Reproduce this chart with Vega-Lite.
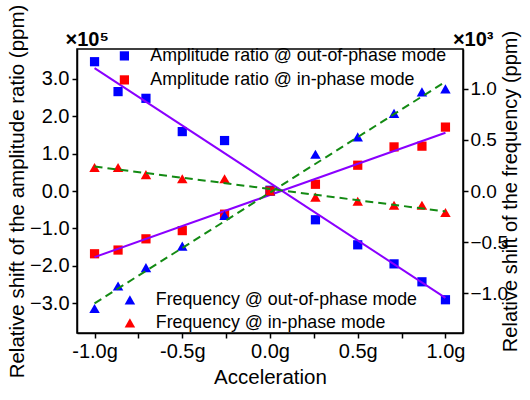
{
  "$schema": "https://vega.github.io/schema/vega-lite/v6.json",
  "width": 386,
  "height": 284,
  "autosize": {"type": "none"},
  "padding": {"left": 77, "top": 49, "right": 67, "bottom": 67},
  "background": "white",
  "config": {
    "font": "Liberation Sans",
    "view": {"stroke": "black", "strokeWidth": 1.5},
    "axis": {
      "grid": false,
      "domainColor": "black",
      "domainWidth": 1.5,
      "tickColor": "black",
      "tickWidth": 1.5,
      "tickSize": 5,
      "labelColor": "black",
      "titleColor": "black",
      "labelFontSize": 20,
      "titleFontSize": 20.5,
      "titleFontWeight": "normal",
      "labelFont": "Liberation Sans",
      "titleFont": "Liberation Sans"
    },
    "legend": {
      "labelFont": "Liberation Sans",
      "labelFontSize": 17.8,
      "labelColor": "black",
      "labelLimit": 500,
      "padding": 0,
      "labelOffset": 17
    }
  },
  "datasets": {
    "amp": [
      {"x": -1.0, "y": 3.46, "series": "Amplitude ratio @ out-of-phase mode"},
      {"x": -0.866, "y": 2.66, "series": "Amplitude ratio @ out-of-phase mode"},
      {"x": -0.707, "y": 2.48, "series": "Amplitude ratio @ out-of-phase mode"},
      {"x": -0.5, "y": 1.59, "series": "Amplitude ratio @ out-of-phase mode"},
      {"x": -0.259, "y": 1.35, "series": "Amplitude ratio @ out-of-phase mode"},
      {"x": 0.0, "y": 0.02, "series": "Amplitude ratio @ out-of-phase mode"},
      {"x": 0.259, "y": -0.77, "series": "Amplitude ratio @ out-of-phase mode"},
      {"x": 0.5, "y": -1.44, "series": "Amplitude ratio @ out-of-phase mode"},
      {"x": 0.707, "y": -1.95, "series": "Amplitude ratio @ out-of-phase mode"},
      {"x": 0.866, "y": -2.43, "series": "Amplitude ratio @ out-of-phase mode"},
      {"x": 1.0, "y": -2.91, "series": "Amplitude ratio @ out-of-phase mode"},
      {"x": -1.0, "y": -1.68, "series": "Amplitude ratio @ in-phase mode"},
      {"x": -0.866, "y": -1.58, "series": "Amplitude ratio @ in-phase mode"},
      {"x": -0.707, "y": -1.28, "series": "Amplitude ratio @ in-phase mode"},
      {"x": -0.5, "y": -1.06, "series": "Amplitude ratio @ in-phase mode"},
      {"x": -0.259, "y": -0.62, "series": "Amplitude ratio @ in-phase mode"},
      {"x": 0.0, "y": 0.0, "series": "Amplitude ratio @ in-phase mode"},
      {"x": 0.259, "y": 0.18, "series": "Amplitude ratio @ in-phase mode"},
      {"x": 0.5, "y": 0.69, "series": "Amplitude ratio @ in-phase mode"},
      {"x": 0.707, "y": 1.18, "series": "Amplitude ratio @ in-phase mode"},
      {"x": 0.866, "y": 1.2, "series": "Amplitude ratio @ in-phase mode"},
      {"x": 1.0, "y": 1.71, "series": "Amplitude ratio @ in-phase mode"}
    ],
    "ampFit": [
      {"x": -1.0, "y": 3.29, "series": "out"},
      {"x": 1.0, "y": -2.86, "series": "out"},
      {"x": -1.0, "y": -1.77, "series": "in"},
      {"x": 1.0, "y": 1.56, "series": "in"}
    ],
    "freq": [
      {"x": -1.0, "y": -1.15, "series": "Frequency @ out-of-phase mode"},
      {"x": -0.866, "y": -0.93, "series": "Frequency @ out-of-phase mode"},
      {"x": -0.707, "y": -0.75, "series": "Frequency @ out-of-phase mode"},
      {"x": -0.5, "y": -0.54, "series": "Frequency @ out-of-phase mode"},
      {"x": -0.259, "y": -0.24, "series": "Frequency @ out-of-phase mode"},
      {"x": 0.0, "y": 0.0, "series": "Frequency @ out-of-phase mode"},
      {"x": 0.259, "y": 0.36, "series": "Frequency @ out-of-phase mode"},
      {"x": 0.5, "y": 0.53, "series": "Frequency @ out-of-phase mode"},
      {"x": 0.707, "y": 0.76, "series": "Frequency @ out-of-phase mode"},
      {"x": 0.866, "y": 0.97, "series": "Frequency @ out-of-phase mode"},
      {"x": 1.0, "y": 1.0, "series": "Frequency @ out-of-phase mode"},
      {"x": -1.0, "y": 0.23, "series": "Frequency @ in-phase mode"},
      {"x": -0.866, "y": 0.23, "series": "Frequency @ in-phase mode"},
      {"x": -0.707, "y": 0.16, "series": "Frequency @ in-phase mode"},
      {"x": -0.5, "y": 0.12, "series": "Frequency @ in-phase mode"},
      {"x": -0.259, "y": 0.12, "series": "Frequency @ in-phase mode"},
      {"x": 0.0, "y": 0.0, "series": "Frequency @ in-phase mode"},
      {"x": 0.259, "y": -0.06, "series": "Frequency @ in-phase mode"},
      {"x": 0.5, "y": -0.1, "series": "Frequency @ in-phase mode"},
      {"x": 0.707, "y": -0.14, "series": "Frequency @ in-phase mode"},
      {"x": 0.866, "y": -0.14, "series": "Frequency @ in-phase mode"},
      {"x": 1.0, "y": -0.21, "series": "Frequency @ in-phase mode"}
    ],
    "freqFit": [
      {"x": -1.0, "y": -1.1, "series": "out"},
      {"x": 1.0, "y": 1.07, "series": "out"},
      {"x": -1.0, "y": 0.24, "series": "in"},
      {"x": 1.0, "y": -0.2, "series": "in"}
    ]
  },
  "layer": [
    {
      "layer": [
        {
          "data": {"name": "amp"},
          "mark": {"type": "point", "shape": "square", "filled": true, "size": 85, "opacity": 1},
          "encoding": {
            "x": {
              "field": "x", "type": "quantitative",
              "scale": {"domain": [-1.1, 1.1], "nice": false, "zero": false},
              "axis": {
                "orient": "bottom",
                "title": "Acceleration",
                "titlePadding": 6,
                "values": [-1, -0.75, -0.5, -0.25, 0, 0.25, 0.5, 0.75, 1],
                "labelExpr": "abs(datum.value*2 - round(datum.value*2)) < 0.001 ? (datum.value < 0 ? '-' : '') + format(abs(datum.value), '.1f') + 'g' : ''",
                "labelPadding": 3,
                "labelOverlap": false,
                "labelFlush": false
              }
            },
            "y": {
              "field": "y", "type": "quantitative",
              "scale": {"domain": [-3.8, 3.8], "nice": false, "zero": false},
              "axis": {
                "orient": "left",
                "title": "Relative shift of the amplitude ratio (ppm)",
                "values": [-3, -2, -1, 0, 1, 2, 3],
                "format": ".1f",
                "labelPadding": 3,
                "titlePadding": 2
              }
            },
            "color": {
              "field": "series", "type": "nominal",
              "scale": {"domain": ["Amplitude ratio @ out-of-phase mode", "Amplitude ratio @ in-phase mode"], "range": ["#0000ff", "#ff0000"]},
              "legend": {"title": null, "orient": "none", "legendX": 38.5, "legendY": -2, "symbolType": "square", "symbolSize": 85, "rowPadding": 5}
            }
          }
        },
        {
          "data": {"name": "ampFit"},
          "mark": {"type": "line", "color": "#8a00ff", "strokeWidth": 2},
          "encoding": {
            "x": {
              "field": "x", "type": "quantitative",
              "scale": {"domain": [-1.1, 1.1], "nice": false, "zero": false},
              "axis": {
                "orient": "top",
                "labels": false, "ticks": false, "domain": false,
                "title": "×10⁵",
                "titleAngle": 0,
                "titleFontWeight": "bold",
                "titleFontSize": 20,
                "titleX": -12,
                "titleY": -4,
                "titleAlign": "left",
                "titleBaseline": "alphabetic"
              }
            },
            "y": {"field": "y", "type": "quantitative"},
            "detail": {"field": "series"}
          }
        }
      ],
      "resolve": {"scale": {"x": "independent"}}
    },
    {
      "layer": [
        {
          "data": {"name": "freq"},
          "mark": {"type": "point", "shape": "triangle-up", "filled": true, "size": 110, "opacity": 1},
          "encoding": {
            "x": {
              "field": "x", "type": "quantitative",
              "scale": {"domain": [-1.1, 1.1], "nice": false, "zero": false},
              "axis": {
                "orient": "top",
                "labels": false, "ticks": false, "domain": false,
                "title": "×10³",
                "titleAngle": 0,
                "titleFontWeight": "bold",
                "titleFontSize": 20,
                "titleX": 416,
                "titleY": -4,
                "titleAlign": "right",
                "titleBaseline": "alphabetic"
              }
            },
            "y": {
              "field": "y", "type": "quantitative",
              "scale": {"domain": [-1.39, 1.39], "nice": false, "zero": false},
              "axis": {
                "orient": "right",
                "title": "Relative shift of the frequency (ppm)",
                "titleAngle": -90,
                "values": [-1, -0.5, 0, 0.5, 1],
                "format": ".1f",
                "labelFontSize": 19,
                "labelPadding": 2,
                "titlePadding": 13,
                "titleFontSize": 20
              }
            },
            "color": {
              "field": "series", "type": "nominal",
              "scale": {"domain": ["Frequency @ out-of-phase mode", "Frequency @ in-phase mode"], "range": ["#0000ff", "#ff0000"]},
              "legend": {"title": null, "orient": "none", "legendX": 44, "legendY": 242, "symbolType": "triangle-up", "symbolSize": 110, "rowPadding": 4}
            }
          }
        },
        {
          "data": {"name": "freqFit"},
          "mark": {"type": "line", "color": "#138a13", "strokeWidth": 2, "strokeDash": [8, 5]},
          "encoding": {
            "x": {"field": "x", "type": "quantitative"},
            "y": {"field": "y", "type": "quantitative"},
            "detail": {"field": "series"}
          }
        }
      ]
    }
  ],
  "resolve": {"scale": {"x": "independent", "y": "independent", "color": "independent"}}
}
